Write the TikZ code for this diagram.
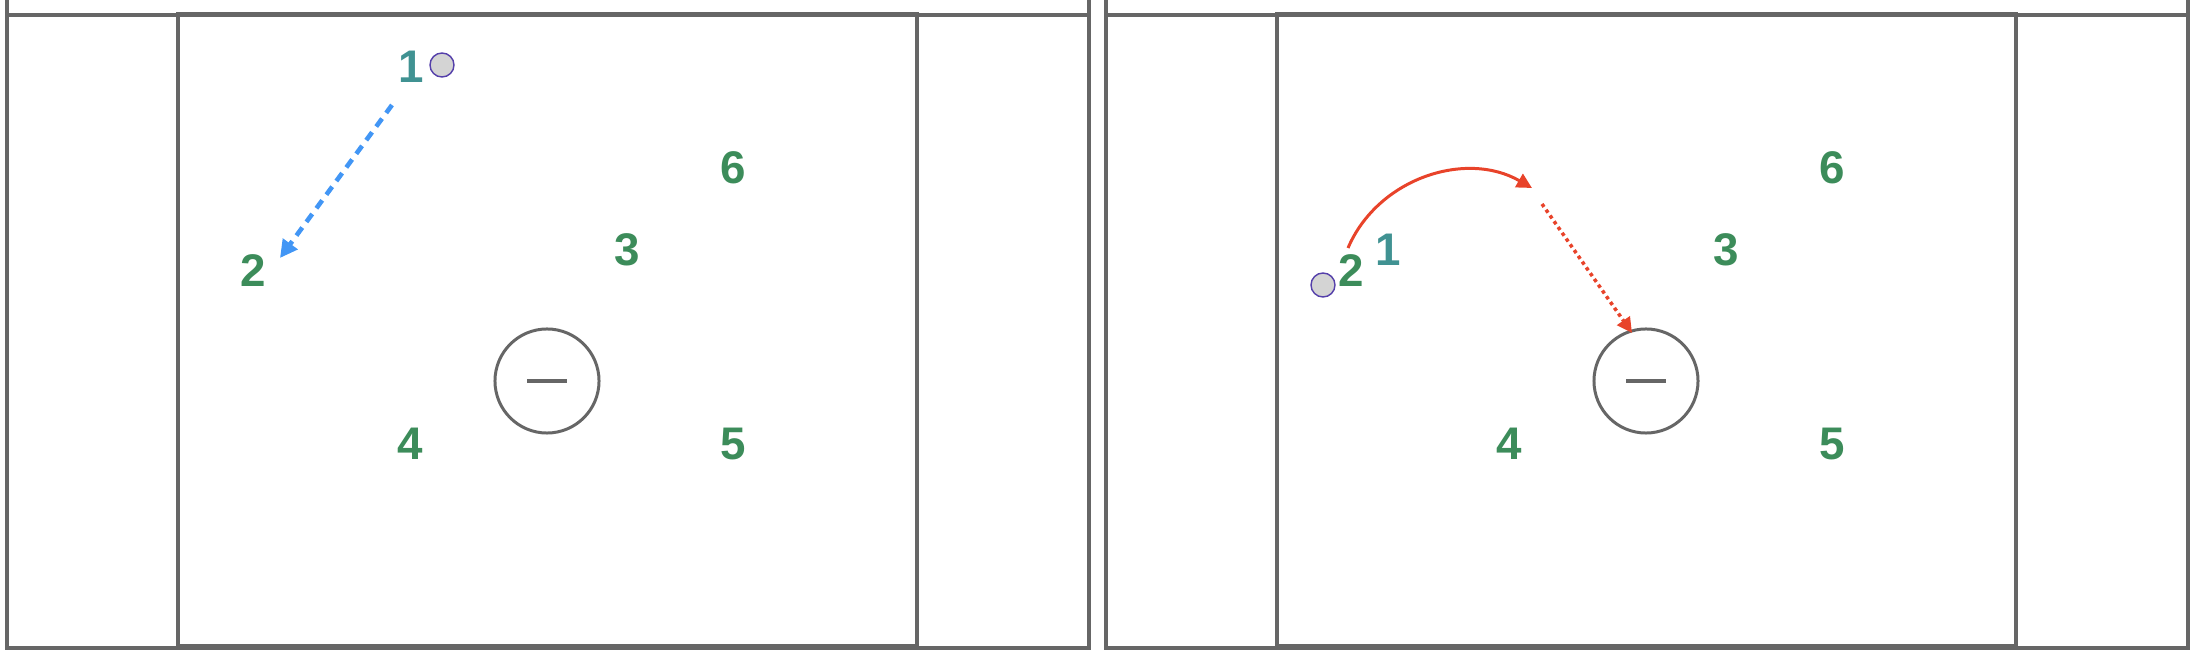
\documentclass[tikz,border=0pt]{standalone}
\usepackage{fontspec}
\setmainfont{Liberation Sans}
\usetikzlibrary{arrows.meta,calc,positioning}
\definecolor{linegray}{RGB}{102,102,102}
\definecolor{fieldgreen}{RGB}{60,140,90}
\definecolor{teal1}{RGB}{64,146,146}
\definecolor{passblue}{RGB}{66,150,245}
\definecolor{runred}{RGB}{232,67,42}
\definecolor{balledge}{RGB}{85,64,170}

\begin{document}
\begin{tikzpicture}[x=0.01cm,y=-0.01cm,
  frame/.style={draw=linegray,line width=0.9pt},
  crease/.style={circle,draw=linegray,line width=0.85pt,minimum size=1.04cm,inner sep=0pt},
  goalline/.style={draw=linegray,line width=1.15pt},
  player/.style={font=\bfseries\fontsize{13}{13}\selectfont,text=fieldgreen,inner sep=0pt},
  carrier/.style={player,text=teal1},
  ball/.style={circle,fill=black!17,draw=balledge,line width=0.4pt,minimum size=0.24cm,inner sep=0pt},
  pass/.style={draw=passblue,line width=1.3pt,dash pattern=on 2.8pt off 2pt,-{Triangle[length=5pt,width=5pt]}},
  run/.style={draw=runred,line width=0.85pt,-{Triangle[length=4.3pt,width=4.3pt]}},
  cut/.style={draw=runred,line width=1pt,dash pattern=on 1pt off 1pt,-{Triangle[length=4.3pt,width=4.3pt]}}]
  \useasboundingbox (0,0) rectangle (2196,658);
  % Left field
  \draw[frame] (7,0) -- (7,648) -- (1089,648) -- (1089,0);
  \draw[frame] (7,15) -- (1089,15);
  \draw[frame] (178,14) rectangle (917,646);
  \node[crease] (goalL) at (547,381) {};
  \draw[goalline] ($(goalL)+(-20,0)$) -- ++(40,0);
  \node[carrier] (oneL) at (411,67) {1};
  \node[ball] (ballL) at (442,65) {};
  \node[player] (twoL) at (253,271) {2};
  \node[player] (threeL) at (627,250) {3};
  \node[player] (fourL) at (410,444) {4};
  \node[player] (fiveL) at (733,444) {5};
  \node[player] (sixL) at (733,168) {6};
  % Pass from 1 to 2
  \coordinate (passA) at (392,105);
  \coordinate (passB) at (280,258);
  \draw[pass] (passA) -- (passB);
  % Right field
  \draw[frame] (1106,0) -- (1106,648) -- (2188,648) -- (2188,0);
  \draw[frame] (1106,15) -- (2188,15);
  \draw[frame] (1277,14) rectangle (2016,646);
  \node[crease] (goalR) at (1646,381) {};
  \draw[goalline] ($(goalR)+(-20,0)$) -- ++(40,0);
  \node[carrier] (oneR) at (1388,250) {1};
  \node[player] (twoR) at (1351,271) {2};
  \node[ball] (ballR) at (1323,285) {};
  \node[player] (threeR) at (1726,250) {3};
  \node[player] (fourR) at (1509,444) {4};
  \node[player] (fiveR) at (1832,444) {5};
  \node[player] (sixR) at (1832,168) {6};
  % Run over the top, then cut to the crease
  \coordinate (runA) at (1348,248);
  \coordinate (runB) at (1532,188);
  \coordinate (cutA) at (1542,204);
  \coordinate (cutB) at (1632,333);
  \draw[run] (runA) .. controls (1378,178) and (1466,150) .. (runB);
  \draw[cut] (cutA) -- (cutB);
\end{tikzpicture}
\end{document}
